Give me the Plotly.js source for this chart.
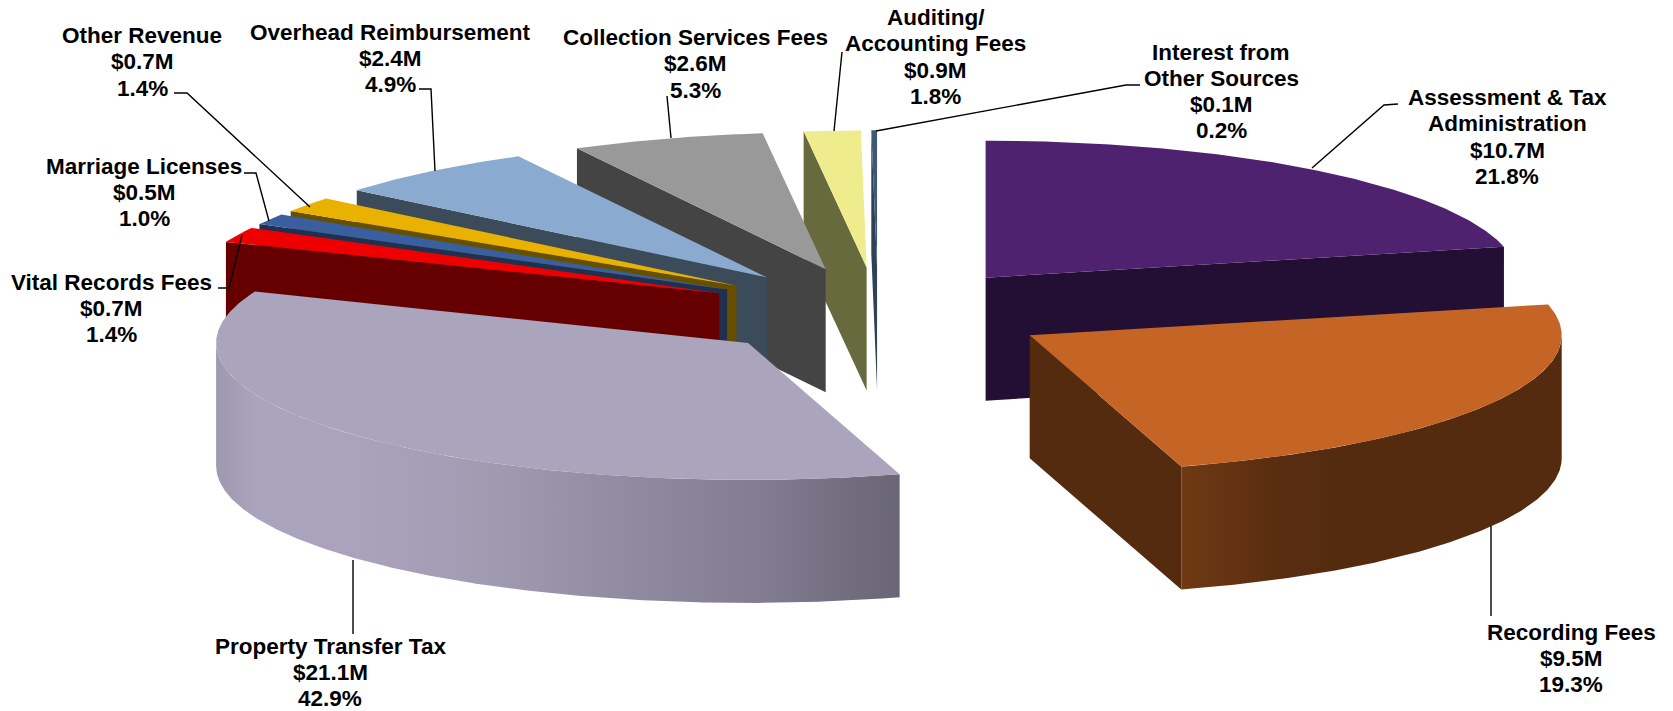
<!DOCTYPE html>
<html>
<head>
<meta charset="utf-8">
<script src="https://cdn.plot.ly/plotly-3.0.1.min.js"></script>
<style>html,body{margin:0;padding:0;background:#fff}#chart{width:1673px;height:711px}</style>
</head>
<body>
<div id="chart"></div>
<script>
// ---- data ----
const categories = ["Assessment & Tax Administration","Recording Fees","Property Transfer Tax","Vital Records Fees","Marriage Licenses","Other Revenue","Overhead Reimbursement","Collection Services Fees","Auditing/ Accounting Fees","Interest from Other Sources"];
const amounts = [10.7, 9.5, 21.1, 0.7, 0.5, 0.7, 2.4, 2.6, 0.9, 0.1];
const shares = [21.8, 19.3, 42.9, 1.4, 1.0, 1.4, 4.9, 5.3, 1.8, 0.2];
const nameLines = [["Assessment & Tax","Administration"],["Recording Fees"],["Property Transfer Tax"],["Vital Records Fees"],["Marriage Licenses"],["Other Revenue"],["Overhead Reimbursement"],["Collection Services Fees"],["Auditing/","Accounting Fees"],["Interest from","Other Sources"]];

// ---- styles ----
const topColors = ["#4f2270","#c46526","#aaa4bd","#ee0000","#3a5fa0","#eab200","#8aabcf","#999999","#eeec8c","#3f5875"];
const wallColors = ["#220f33","#552b10","#7d778c","#660000","#1f3050","#665000","#3c4b5a","#444444","#666a3c","#2f4057"];
const outerGradients = {
  1:{start:1181,stop:1560,stops:[[0,"#6f3a14"],[0.25,"#5a2d10"],[0.4,"#552b10"],[1,"#552b10"]]},
  2:{start:216,stop:900,stops:[[0,"#9e99ae"],[0.06,"#aaa4bd"],[0.2,"#aba2bd"],[0.4,"#a19bb1"],[0.6,"#918ba1"],[0.8,"#827c90"],[1,"#686575"]]}
};
const drawOrder = [9,8,7,6,5,4,3,0,2,1];
const labelPos = [[1507,97.7],[1571,632],[330,646.5],[111,282],[144,166],[142,35.7],[390,32],[695,37.7],[935.5,17.7],[1221,52]];
const leaders = [
  [[1398,1384,1312],[104,105,168]],
  [[1491,1491],[526,616]],
  [[353,353],[560,634]],
  [[218,229,242],[288,288,235]],
  [[244,256,269],[173,173,221]],
  [[174,187,310],[93,93,207]],
  [[419,431,435],[89,89,171]],
  [[667,671],[96,138]],
  [[842,834],[52,131]],
  [[1140,1126,876],[85,85,131]]
];

// ---- view of the tilted, exploded pie ----
const center = {x:878, y:312.5}, radiusX = 532, radiusY = 137, depth = 123;
const explode = [0.325,0.33,0.33,0.33,0.33,0.33,0.33,0.33,0.33,0.33];
const warpFrom = [0,78.5,148,302.4,333.7,352.8,359.3,360], warpTo = [0,77,163.5,292,332.1,353.2,359.4,360];
function warp(a){
  for(let i=1;i<warpFrom.length;i++){
    if(a<=warpFrom[i]){
      return warpTo[i-1]+(a-warpFrom[i-1])*(warpTo[i]-warpTo[i-1])/(warpFrom[i]-warpFrom[i-1]);
    }
  }
  return 360;
}
const rad = d=>d*Math.PI/180;
const total = shares.reduce((s,v)=>s+v,0);
let cum = 0;
const slices = shares.map((v,i)=>{
  const s = warp(cum/total*360); cum += v; const e = warp(cum/total*360);
  const m = (s+e)/2;
  return {s,e,cx:center.x+explode[i]*radiusX*Math.sin(rad(m)),cy:center.y-explode[i]*radiusY*Math.cos(rad(m))};
});
const rim = (sl,a)=>[sl.cx+radiusX*Math.sin(rad(a)), sl.cy-radiusY*Math.cos(rad(a))];
function arc(sl,a,b){
  const pts=[]; const n=Math.max(2,Math.ceil((b-a)*2));
  for(let i=0;i<=n;i++) pts.push(rim(sl,a+(b-a)*i/n));
  return pts;
}
function poly(pts,color,grad){
  const t={type:"scatter",mode:"lines",x:pts.map(p=>p[0]).concat(pts[0][0]),y:pts.map(p=>p[1]).concat(pts[0][1]),
    fill:"toself",fillcolor:color,line:{width:0,color:color},hoverinfo:"skip",showlegend:false};
  if(grad){t.fillgradient={type:"horizontal",start:grad.start,stop:grad.stop,colorscale:grad.stops};}
  return t;
}
const traces=[];
drawOrder.forEach(i=>{
  const sl=slices[i], apex=[sl.cx,sl.cy];
  const down=p=>[p[0],p[1]+depth];
  if(sl.s>180&&sl.s<360){const c=rim(sl,sl.s);traces.push(poly([c,apex,down(apex),down(c)],wallColors[i]));}
  if(sl.e>0&&sl.e<180){const c=rim(sl,sl.e);traces.push(poly([c,apex,down(apex),down(c)],wallColors[i]));}
  const a=Math.max(sl.s,90), b=Math.min(sl.e,270);
  if(b>a){const p=arc(sl,a,b);traces.push(poly(p.concat(p.slice().reverse().map(down)),wallColors[i],outerGradients[i]));}
  traces.push(poly([apex].concat(arc(sl,sl.s,sl.e)),topColors[i]));
});
leaders.forEach(l=>traces.push({type:"scatter",mode:"lines",x:l[0],y:l[1],line:{color:"#000",width:1.4},hoverinfo:"skip",showlegend:false}));

// ---- labels ----
const annotations=[];
const lineGap=26.2;
categories.forEach((c,i)=>{
  const lines=nameLines[i].concat(["$"+amounts[i].toFixed(1)+"M",shares[i].toFixed(1)+"%"]);
  lines.forEach((t,k)=>annotations.push({x:labelPos[i][0],y:labelPos[i][1]+k*lineGap,xref:"x",yref:"y",text:"<b>"+t.replace("&","&amp;")+"</b>",showarrow:false,xanchor:"center",yanchor:"middle",font:{family:"Liberation Sans, Arial, sans-serif",size:22.5,color:"#000"}}));
});

const layout={width:1673,height:711,margin:{l:0,r:0,t:0,b:0},paper_bgcolor:"#fff",plot_bgcolor:"#fff",showlegend:false,
  xaxis:{range:[0,1673],visible:false,fixedrange:true},
  yaxis:{range:[711,0],visible:false,fixedrange:true},
  annotations:annotations};
Plotly.newPlot("chart",traces,layout,{displayModeBar:false,staticPlot:true});
</script>
</body>
</html>
